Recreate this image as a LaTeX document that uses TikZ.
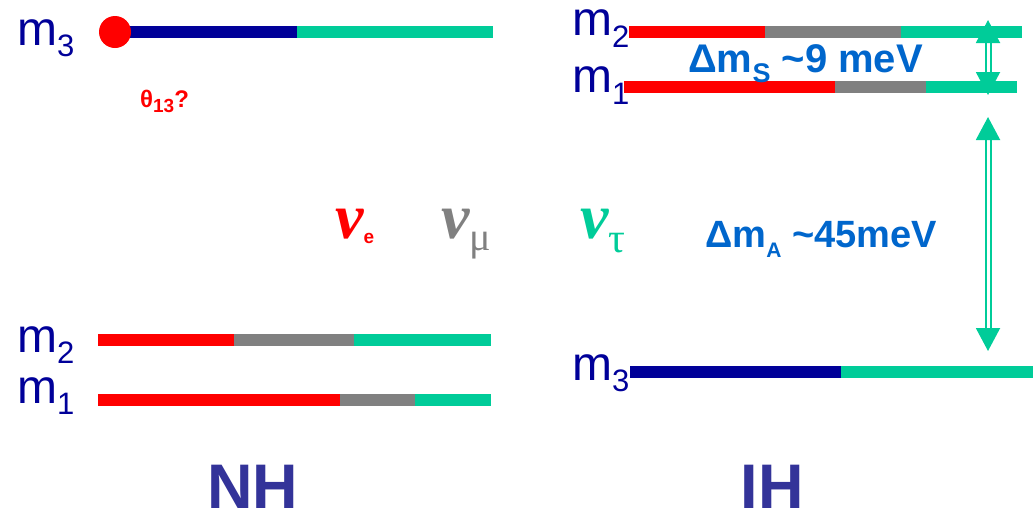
\documentclass[tikz,border=0pt]{standalone}
\usepackage{fontspec}
\setmainfont{Liberation Sans}
\newfontfamily\nufont{Liberation Serif}
\usepackage{tikz}
\usetikzlibrary{arrows.meta, positioning}
\definecolor{nuE}{HTML}{FF0000}
\definecolor{nuMu}{HTML}{808080}
\definecolor{nuTau}{HTML}{00CC99}
\definecolor{mThree}{HTML}{000099}
\definecolor{gapBlue}{HTML}{0066CC}
\definecolor{hierBlue}{HTML}{333399}
\tikzstyle{bar} = [line width=12pt]
\tikzstyle{mass} = [anchor=base west, inner sep=0pt, text=mThree, font=\fontsize{48}{48}\selectfont]
\tikzstyle{split} = [anchor=base west, inner sep=0pt, text=gapBlue, font=\bfseries\fontsize{40}{40}\selectfont]
\tikzstyle{flavour} = [anchor=base west, inner sep=0pt, font=\nufont\bfseries\itshape\fontsize{64}{64}\selectfont]
\tikzstyle{hier} = [anchor=base, inner sep=0pt, text=hierBlue, font=\bfseries\fontsize{63}{63}\selectfont]
\tikzstyle{gaparrow} = [draw=nuTau, line width=2pt, double=white, double distance=3pt, {Triangle[width=24pt,length=23pt]}-{Triangle[width=24pt,length=23pt]}]
\newcommand{\lowsub}[3]{\raisebox{#1}{\fontsize{#2}{#2}\selectfont #3}}

\begin{document}
\begin{tikzpicture}[x=1pt, y=-1pt]
    \useasboundingbox (0,0) rectangle (1033,512);

    % NH levels
    \foreach \a/\b/\c in {115/297/mThree, 297/493/nuTau} {
        \draw[bar, \c] (\a,32) -- (\b,32);
    }
    \foreach \a/\b/\c in {98/234/nuE, 234/354/nuMu, 354/491/nuTau} {
        \draw[bar, \c] (\a,340) -- (\b,340);
    }
    \foreach \a/\b/\c in {98/340/nuE, 340/415/nuMu, 415/491/nuTau} {
        \draw[bar, \c] (\a,400) -- (\b,400);
    }
    \node[circle, fill=nuE, minimum size=32pt, inner sep=0pt] (mix) at (115,32) {};
    \node[anchor=base west, inner sep=0pt, text=nuE, font=\bfseries\fontsize{24}{24}\selectfont] (theta) at (140,107)
        {θ\lowsub{-5pt}{19}{13}?};

    \node[mass] (nhM3) at (17,45) {m\lowsub{-11pt}{31}{3}};
    \node[mass] (nhM2) at (17,352) {m\lowsub{-11pt}{31}{2}};
    \node[mass] (nhM1) at (17,403) {m\lowsub{-11pt}{31}{1}};

    % IH levels
    \foreach \a/\b/\c in {629/765/nuE, 765/901/nuMu, 901/1022/nuTau} {
        \draw[bar, \c] (\a,32) -- (\b,32);
    }
    \foreach \a/\b/\c in {624/835/nuE, 835/926/nuMu, 926/1017/nuTau} {
        \draw[bar, \c] (\a,87) -- (\b,87);
    }
    \foreach \a/\b/\c in {630/841/mThree, 841/1033/nuTau} {
        \draw[bar, \c] (\a,372) -- (\b,372);
    }

    \node[mass] (ihM2) at (572,35) {m\lowsub{-12pt}{31}{2}};
    \node[mass] (ihM1) at (572,92) {m\lowsub{-12pt}{31}{1}};
    \node[mass] (ihM3) at (572,380) {m\lowsub{-11pt}{31}{3}};

    % Splittings
    \coordinate (solTop) at (988,20);
    \coordinate (solBot) at (988,95);
    \coordinate (atmTop) at (988,117);
    \coordinate (atmBot) at (988,351);
    \draw[gaparrow] (solTop) -- (solBot);
    \draw[gaparrow] (atmTop) -- (atmBot);

    \node[split] (dmS) at (688,72) {Δm\lowsub{-10pt}{27}{S} \textasciitilde9 meV};
    \node[split, font=\bfseries\fontsize{38}{38}\selectfont] (dmA) at (705,247) {Δm\lowsub{-10pt}{21}{A} \textasciitilde45meV};

    % Flavours
    \node[flavour, text=nuE] (nuEl) at (335,238) {ν\lowsub{-5pt}{19}{\normalfont\bfseries e}};
    \node[flavour, text=nuMu] (nuMl) at (441,238) {ν\lowsub{-12pt}{40}{\normalfont\nufont μ}};
    \node[flavour, text=nuTau] (nuTl) at (580,238) {ν\lowsub{-14pt}{42}{\normalfont\nufont τ}};

    % Hierarchies
    \node[hier] (nh) at (253,508) {NH};
    \node[hier] (ih) at (772,508) {IH};
\end{tikzpicture}
\end{document}
